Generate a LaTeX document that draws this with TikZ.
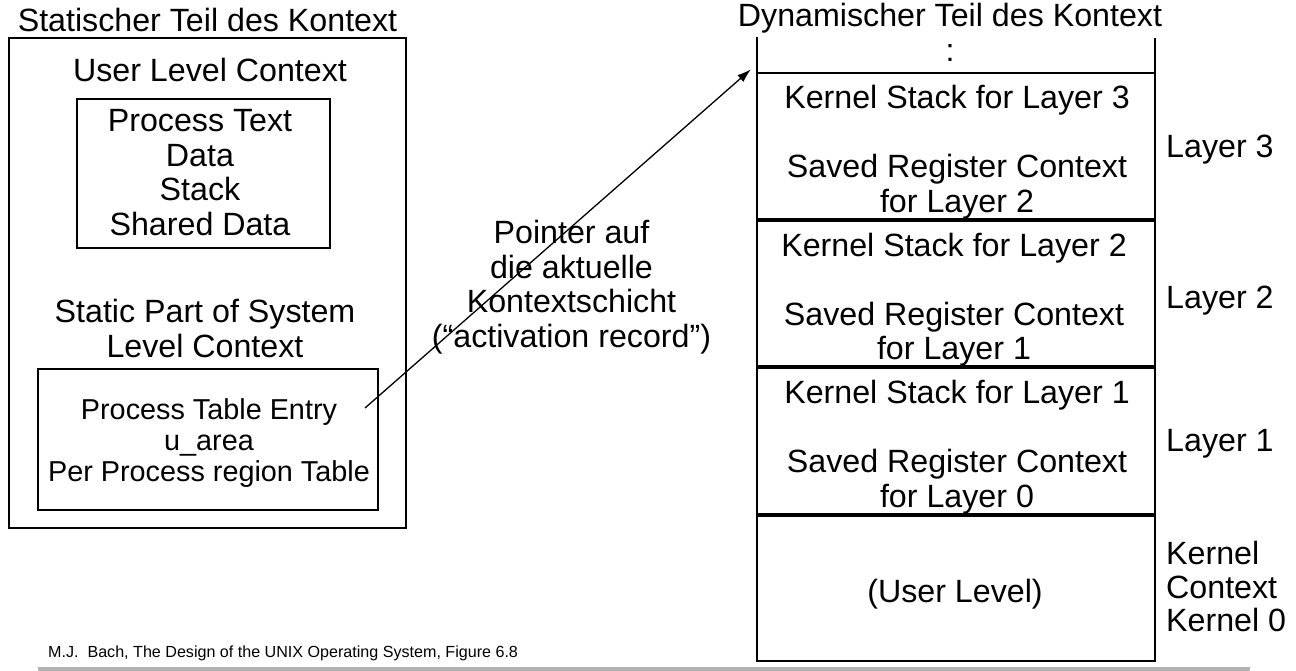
\documentclass[tikz,border=0pt]{standalone}
\usepackage{fontspec}
\setmainfont{Liberation Sans}
\usetikzlibrary{positioning,arrows.meta}

\tikzset{
    txt/.style={font=\fontsize{32.2}{34.5}\selectfont, align=center, inner sep=0pt},
    smalltxt/.style={font=\fontsize{28.8}{31}\selectfont, align=center, inner sep=0pt},
    notetxt/.style={font=\fontsize{16.1}{18}\selectfont, inner sep=0pt},
    frame/.style={draw, line width=1.8pt, inner sep=0pt},
    box/.style={draw, line width=1.4pt, inner sep=0pt},
    layer/.style={draw, line width=1.8pt, minimum width=398pt, minimum height=145.5pt, inner sep=0pt, outer sep=0pt},
}

\begin{document}
\begin{tikzpicture}[x=1pt,y=-1pt]
    \useasboundingbox (0,0) rectangle (1296,671);
    % static part (left)
    \node[frame, minimum width=397pt, minimum height=490pt] (stat) at (207.5,283) {};
    \node[txt, anchor=base] (statT) at (207.5,32) {Statischer Teil des Kontext};
    \node[txt, anchor=base] (ulcT) at (210,82) {User Level Context};
    \node[box, minimum width=253pt, minimum height=149pt] (ulc) at (203.5,173.5) {};
    \node[txt] (ulcL) at (200,172.5) {Process Text\\Data\\Stack\\Shared Data};
    \node[txt] (sysT) at (205,328.5) {Static Part of System\\Level Context};
    \node[box, minimum width=340pt, minimum height=141pt] (sys) at (208,439.5) {};
    \node[smalltxt] (sysL) at (209,443.5) {Process Table Entry\\u\_area\\Per Process region Table};
    \coordinate (ptr) at (365,408);
    % dynamic part (right)
    \node[txt, anchor=base] (dynT) at (950,27) {Dynamischer Teil des Kontext};
    \node[txt, anchor=base] (dots) at (950,62) {:};
    \node[layer] (l3) at (956,146) {};
    \node[layer, below=2pt of l3] (l2) {};
    \node[layer, below=2pt of l2] (l1) {};
    \node[layer, below=2pt of l1] (l0) {};
    \draw[line width=1.8pt] (l3.north west) -- ++(0,-36);
    \draw[line width=1.8pt] (l3.north east) -- ++(0,-35);
    \node[txt] (t3) at ([xshift=1pt,yshift=-6pt]l3.center) {Kernel Stack for Layer 3\\[34.5pt]Saved Register Context\\for Layer 2};
    \node[txt] (t2) at ([xshift=-2pt,yshift=-6pt]l2.center) {Kernel Stack for Layer 2\\[34.5pt]Saved Register Context\\for Layer 1};
    \node[txt] (t1) at ([xshift=1pt,yshift=-6pt]l1.center) {Kernel Stack for Layer 1\\[34.5pt]Saved Register Context\\for Layer 0};
    \node[txt, anchor=base] (t0) at ([xshift=-1pt,yshift=-14pt]l0.center) {(User Level)};
    \node[txt, anchor=base west] (n3) at ([xshift=11pt,yshift=-12pt]l3.east) {Layer 3};
    \node[txt, anchor=base west] (n2) at ([xshift=11pt,yshift=-15pt]l2.east) {Layer 2};
    \node[txt, anchor=base west] (n1) at ([xshift=11pt,yshift=-10pt]l1.east) {Layer 1};
    \node[txt, align=left, anchor=west] (n0) at ([xshift=11pt,yshift=2pt]l0.east) {Kernel\\[-1pt]Context\\[-1pt]Kernel 0};
    % pointer
    \node[txt] (ptrT) at (571.5,287) {Pointer auf\\die aktuelle\\Kontextschicht\\(“activation record”)};
    \draw[line width=1.3pt, -{Latex[length=14pt,width=9pt]}] (ptr) -- ([xshift=-6pt,yshift=4pt]l3.north west);
    % footer
    \node[notetxt, anchor=base west] (src) at (48,657) {M.J.\ \ Bach, The Design of the UNIX Operating System, Figure 6.8};
    \fill[gray!60] (38,667) rectangle (1250,671);
\end{tikzpicture}
\end{document}
